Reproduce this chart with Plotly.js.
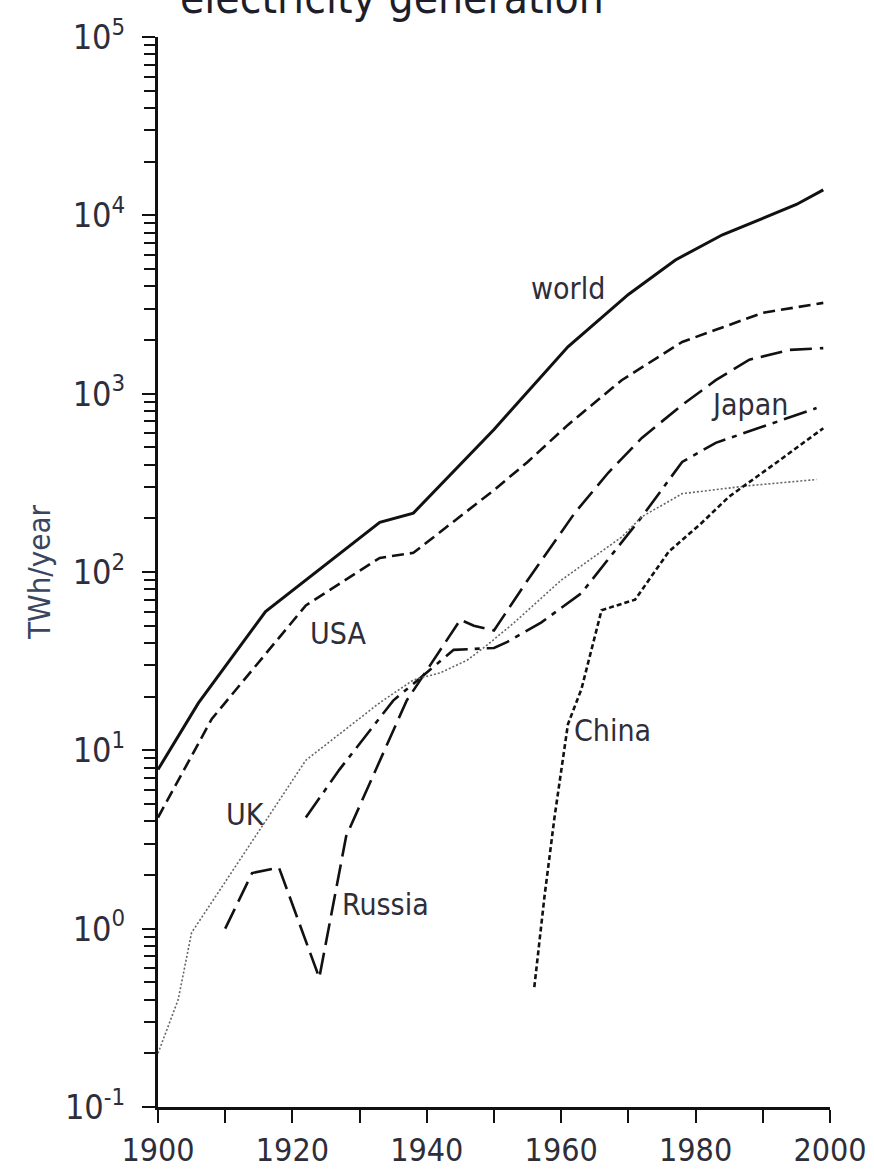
<!DOCTYPE html>
<html>
<head>
<meta charset="utf-8">
<script src="https://cdn.plot.ly/plotly-3.0.1.min.js"></script>
<style>
  html, body { margin: 0; padding: 0; background: #fff; }
  #chart { width: 874px; height: 1171px; }
</style>
</head>
<body>
<div id="chart"></div>
<script>
// ---- data ----
const worldYears = [1900, 1906, 1916, 1933, 1938, 1950, 1961, 1970, 1977, 1984, 1995, 1999];
const worldTWh   = [7.8, 18.4, 60, 190, 214, 630, 1830, 3600, 5620, 7780, 11500, 13900];

const usaYears = [1900, 1908, 1922, 1933, 1938, 1950, 1955, 1961, 1969, 1978, 1983, 1990, 1999];
const usaTWh   = [4.2, 15, 65, 120, 128, 288, 414, 668, 1190, 1950, 2280, 2840, 3230];

const japanYears = [1922, 1927, 1935, 1943, 1944, 1950, 1952, 1957, 1963, 1972, 1978, 1983, 1998];
const japanTWh   = [4.2, 7.8, 19, 34, 36.6, 37.5, 40.6, 52, 76, 204, 414, 530, 830];

const russiaYears = [1910, 1914, 1918, 1924, 1928, 1937, 1945, 1947, 1950, 1955, 1962, 1967, 1972, 1978, 1983, 1988, 1994, 1999];
const russiaTWh   = [1.0, 2.05, 2.2, 0.53, 3.3, 19, 54, 50, 47, 90, 214, 360, 565, 865, 1190, 1550, 1760, 1800];

const ukYears = [1900, 1903, 1905, 1922, 1933, 1938, 1942, 1946, 1949, 1953, 1960, 1969, 1972, 1978, 1988, 1998];
const ukTWh   = [0.2, 0.4, 0.95, 8.8, 18.5, 24.8, 27.2, 32, 39, 52, 90, 157, 204, 275, 305, 330];

const chinaYears = [1956, 1957.5, 1959, 1961, 1963, 1966, 1971, 1976, 1981, 1985, 1992, 1999];
const chinaTWh   = [0.47, 1.5, 4.2, 14, 22, 61, 70, 130, 190, 265, 410, 640];

const seriesNames = ['world', 'USA', 'Japan', 'Russia', 'UK', 'China'];
const labelYears  = [1961, 1926.8, 1988, 1933.8, 1913, 1967.6];
const labelTWh    = [3900, 45, 865, 1.36, 4.35, 13];

const xTickVals = [1900, 1920, 1940, 1960, 1980, 2000];
const xTickText = ['1900', '1920', '1940', '1960', '1980', '2000'];
const yTickVals = [0.1, 1, 10, 100, 1000, 10000, 100000];
const yTickText = ['10<sup>-1</sup>', '10<sup>0</sup>', '10<sup>1</sup>', '10<sup>2</sup>', '10<sup>3</sup>', '10<sup>4</sup>', '10<sup>5</sup>'];
const chartTitle = 'electricity generation';
const yTitle = 'TWh/year';

// ---- styling ----
const FONT = 'Liberation Sans Narrow, DejaVu Sans Condensed, Lato, sans-serif';
const TXT = '#2e2e3a';

const minorVals = [];
for (let e = -1; e < 5; e++) {
  for (let m = 2; m <= 9; m++) minorVals.push(m * Math.pow(10, e));
}

function line(x, y, name, dash, width, color) {
  return {
    type: 'scatter', mode: 'lines', x: x, y: y, name: name,
    line: { color: color || '#111', width: width, dash: dash },
    hoverinfo: 'x+y+name'
  };
}

const traces = [
  line(worldYears, worldTWh, 'world', 'solid', 3),
  line(usaYears, usaTWh, 'USA', '12px,6px', 2.6),
  line(japanYears, japanTWh, 'Japan', '24px,7px,5px,7px', 2.6),
  line(russiaYears, russiaTWh, 'Russia', '22px,8px', 2.6),
  line(ukYears, ukTWh, 'UK', '2px,2px', 1.6, '#666'),
  line(chinaYears, chinaTWh, 'China', '5px,3px', 2.6)
];

const annotations = seriesNames.map((n, i) => ({
  x: labelYears[i], y: Math.log10(labelTWh[i]), xref: 'x', yref: 'y',
  text: n, showarrow: false,
  font: { family: FONT, size: 30, color: TXT }
}));
annotations.push({
  x: 0.348, y: 1.037, xref: 'paper', yref: 'paper',
  xanchor: 'center', yanchor: 'middle',
  text: chartTitle, showarrow: false,
  font: { family: FONT, size: 44, color: '#1e1e2a' }
});

const layout = {
  width: 874, height: 1171,
  margin: { l: 158, r: 44, t: 37, b: 64, pad: 0 },
  paper_bgcolor: '#fff', plot_bgcolor: '#fff',
  showlegend: false,
  font: { family: FONT, color: TXT },
  xaxis: {
    range: [1900, 2000], showgrid: false, zeroline: false,
    showline: true, linewidth: 3, linecolor: '#111',
    ticks: 'outside', ticklen: 13, tickwidth: 2, tickcolor: '#111',
    tickmode: 'array', tickvals: xTickVals, ticktext: xTickText,
    tickfont: { family: FONT, size: 32, color: TXT },
    ticklabelstandoff: 0,
    minor: { dtick: 10, tick0: 1900, ticks: 'outside', ticklen: 13, tickwidth: 2, tickcolor: '#111', showgrid: false }
  },
  yaxis: {
    type: 'log', range: [-1, 5], showgrid: false, zeroline: false,
    showline: true, linewidth: 3, linecolor: '#111',
    ticks: 'outside', ticklen: 13, tickwidth: 2, tickcolor: '#111',
    tickmode: 'array', tickvals: yTickVals, ticktext: yTickText,
    tickfont: { family: FONT, size: 34, color: TXT },
    ticklabelstandoff: 10,
    minor: { tickmode: 'array', tickvals: minorVals, ticks: 'outside', ticklen: 11, tickwidth: 2, tickcolor: '#111', showgrid: false },
    title: { text: yTitle, font: { family: FONT, size: 31, color: '#3a4660' }, standoff: 6 },
    automargin: false
  },
  annotations: annotations
};

Plotly.newPlot('chart', traces, layout, { staticPlot: true, displayModeBar: false });
</script>
</body>
</html>
